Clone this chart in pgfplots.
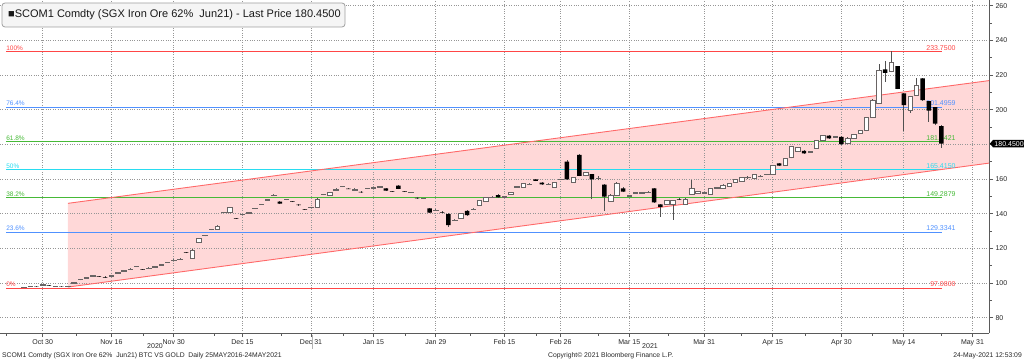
\documentclass[border=0pt]{standalone}
\usepackage{pgfplots}
\pgfplotsset{compat=1.18}
\usepackage{pgfplotstable}
\usepackage{fontspec}
\setmainfont{Liberation Sans}
\usetikzlibrary{shapes.symbols}

\definecolor{fibred}{RGB}{255,70,70}
\definecolor{fibblue}{RGB}{80,145,255}
\definecolor{fibgreen}{RGB}{70,185,55}
\definecolor{fibcyan}{RGB}{40,220,240}
\definecolor{chanline}{RGB}{255,105,105}
\definecolor{chanfill}{RGB}{255,216,216}
\definecolor{upline}{RGB}{105,100,100}
\definecolor{wickc}{RGB}{80,80,80}
\definecolor{gridc}{RGB}{150,150,150}
\definecolor{axc}{RGB}{90,90,90}

% i = trading day index (0 = 27 Oct 2020), open high low close
\pgfplotstableread{
i o h l c
0 97.5 98.0 97.3 97.8
1 98.1 98.6 97.9 98.4
2 98.0 98.3 97.6 97.8
3 98.8 99.4 98.6 99.1
4 98.8 99.1 98.3 98.5
5 98.2 98.6 97.9 98.4
6 98.1 98.3 97.7 97.9
7 97.9 98.4 97.7 98.2
8 99.8 100.6 99.5 100.3
9 101.9 102.5 101.6 102.2
10 102.8 103.4 102.5 103.1
11 103.9 104.5 103.7 104.2
12 104.0 104.3 103.5 103.7
13 103.5 103.8 103.0 103.2
14 103.8 104.9 103.6 104.6
15 105.8 106.4 105.6 106.1
16 106.8 107.4 106.6 107.1
17 107.9 108.5 107.7 108.2
18 109.4 110.0 109.2 109.7
19 108.1 108.4 107.6 107.8
20 108.5 109.1 108.3 108.8
21 109.2 109.8 109.0 109.5
22 110.4 111.0 110.2 110.7
23 111.8 112.4 111.6 112.1
24 113.1 113.7 112.9 113.4
25 113.7 114.3 113.5 114.0
26 117.7 118.0 117.2 117.4
27 114.3 119.4 114.0 119.0
28 123.3 125.9 123.0 125.6
29 127.3 127.9 127.0 127.6
30 130.8 131.4 130.6 131.1
31 131.0 133.4 130.7 133.0
32 140.6 141.2 140.4 140.9
33 140.8 144.0 140.5 143.7
34 137.5 137.8 137.0 137.2
35 139.4 140.0 139.2 139.7
36 140.4 141.0 140.2 140.7
37 142.9 143.5 142.7 143.2
38 145.3 145.9 145.1 145.6
39 147.8 148.4 147.6 148.1
40 150.6 151.2 150.4 150.9
41 147.0 147.3 145.5 145.8
42 148.1 148.7 147.9 148.4
43 147.1 147.4 146.6 146.8
44 145.2 145.5 144.7 144.9
45 142.7 143.0 142.2 142.4
46 143.5 144.1 143.3 143.8
47 143.8 148.8 143.5 148.4
48 151.0 151.6 150.8 151.3
49 150.8 152.7 150.6 152.4
50 153.8 154.6 153.6 154.3
51 155.6 156.2 155.4 155.9
52 154.5 154.8 154.0 154.2
53 153.3 154.6 153.1 154.3
54 152.6 152.9 152.1 152.3
55 154.4 155.0 154.2 154.7
56 154.8 155.4 154.6 155.1
57 155.4 156.0 155.2 155.7
58 154.6 154.9 153.0 153.3
59 152.9 153.2 152.4 152.6
60 156.2 156.5 154.0 154.3
61 152.9 153.2 152.4 152.6
62 152.2 152.8 152.0 152.5
63 149.1 149.4 148.6 148.8
64 148.7 149.3 148.5 149.0
65 143.1 143.5 140.3 140.6
66 141.9 142.5 141.7 142.2
67 141.0 141.3 140.5 140.7
68 139.8 140.4 132.5 133.5
69 136.2 136.8 136.0 136.5
70 137.3 140.5 137.0 140.2
71 141.6 141.9 138.9 139.2
72 142.5 143.1 142.3 142.8
73 145.0 147.8 144.7 147.5
74 147.3 149.8 147.0 149.5
75 149.5 150.0 149.2 149.7
76 150.8 151.2 149.2 149.5
77 149.6 150.2 149.4 149.9
78 151.4 152.7 151.2 152.4
79 155.4 156.0 155.2 155.7
80 155.2 157.8 155.0 157.5
81 156.9 157.5 156.7 157.2
82 159.8 160.1 158.7 159.0
83 157.9 158.2 156.7 157.0
84 156.9 157.5 156.7 157.2
85 155.2 158.4 154.9 158.1
86 159.6 160.2 159.4 159.9
87 170.0 171.0 159.5 159.8
88 158.1 161.1 157.8 160.8
89 173.9 174.6 161.6 161.9
90 161.9 164.2 161.6 163.9
91 162.9 163.2 148.3 159.8
92 160.3 161.5 159.3 160.5
93 156.8 157.4 141.7 149.8
94 147.3 151.1 146.8 150.8
95 150.8 158.4 150.5 157.3
96 154.6 155.3 152.4 152.7
97 150.3 150.9 150.1 150.6
98 151.9 152.5 151.7 152.2
99 151.9 152.8 151.5 152.2
100 152.3 152.9 152.1 152.6
101 154.6 155.0 146.3 146.6
102 145.4 145.7 138.3 144.0
103 145.4 148.2 145.1 147.9
104 145.4 148.2 136.4 147.9
105 148.5 148.8 148.0 148.2
106 145.4 148.8 145.1 148.5
107 151.4 159.4 151.1 154.6
108 151.8 153.4 151.5 153.1
109 151.9 152.5 151.7 152.2
110 151.4 154.9 151.1 154.6
111 154.8 155.4 154.6 155.1
112 154.6 156.9 154.3 156.6
113 155.6 157.8 155.3 157.5
114 158.1 160.1 157.8 159.8
115 158.9 161.1 158.6 160.8
116 160.8 161.8 160.2 161.1
117 160.4 163.0 160.1 162.7
118 161.5 162.4 161.0 161.8
119 162.5 163.1 162.3 162.8
120 162.7 168.0 162.4 167.7
121 169.1 169.4 167.4 167.7
122 168.1 172.3 167.8 172.0
123 172.3 179.0 172.0 178.7
124 176.3 178.4 176.0 178.1
125 176.3 176.6 174.5 174.8
126 175.6 176.4 175.2 175.9
127 177.7 182.8 177.4 182.5
128 182.5 185.7 182.2 185.4
129 185.0 185.3 183.2 183.5
130 184.2 184.8 184.0 184.5
131 184.4 184.7 179.9 180.2
132 180.8 184.0 180.5 183.6
133 183.5 186.1 183.2 185.8
134 186.4 188.5 186.1 187.9
135 187.9 195.9 187.6 195.6
136 195.6 205.9 195.3 205.6
137 203.7 226.4 203.4 222.9
138 223.3 228.3 216.2 221.3
139 221.9 233.75 221.6 227.3
140 225.2 225.5 211.8 212.1
141 209.5 209.8 188.0 202.7
142 199.8 207.8 198.2 207.5
143 208.5 218.1 208.2 214.3
144 218.1 218.4 205.3 205.6
145 205.0 205.3 193.0 199.5
146 201.5 201.8 191.0 192.0
147 190.5 191.0 178.0 180.45
}\candles

\pgfplotsset{chartbase/.style={
  width=989pt, height=333pt, scale only axis,
  at={(0pt,28pt)}, anchor=south west,
  xmin=-3.846, xmax=154.65, ymin=71.2, ymax=263.3,
}}

\newcommand{\fibfont}{\fontsize{6.5}{7.5}\selectfont}
\newcommand{\valfont}{\fontsize{7}{8}\selectfont}

\begin{document}
\begin{tikzpicture}
\useasboundingbox (0pt,0pt) rectangle (1024pt,361pt);

% frame, grid, ticks, regression channel (grid drawn over the channel fill)
\begin{axis}[chartbase,
  clip=false, axis on top,
  axis x line*=bottom, axis y line*=right,
  axis line style={-, draw=axc, line width=0.9pt},
  xtick={3,14,24,35,46,56,66,77,86,97,109,120,131,141,152},
  xticklabels={Oct 30,Nov 16,Nov 30,Dec 15,Dec 31,Jan 15,Jan 29,Feb 15,Feb 26,Mar 15,Mar 31,Apr 15,Apr 30,May 14,May 31},
  minor xtick={-2.77,8.45,19.1,30.5,41.2,51.2,61.2,71.5,82.2,92.1,103.2,114.9,125.2,136.0,147.1},
  ytick={80,100,...,260},
  yticklabels={80,100,120,140,160,,200,220,240,260},
  minor ytick={90,110,...,250},
  yticklabel pos=right,
  xmajorgrids, ymajorgrids,
  major grid style={gridc, dotted, line width=0.7pt},
  tick align=outside,
  major tick length=4pt, minor tick length=2.5pt,
  tick style={axc, line width=0.9pt},
  ticklabel style={font=\fontsize{7}{8}\selectfont, text=black!85},
  xticklabel style={yshift=1pt},
  yticklabel style={xshift=-1pt},
]
\addplot[draw=none, fill=chanfill] coordinates {(7.05,97.7) (154.65,169.2) (154.65,216.8) (7.05,146.0) (7.05,97.7)};
\end{axis}

% Fibonacci levels (thin bands), channel borders, wicks
\begin{axis}[chartbase, hide axis, clip=false]
\addplot[draw=none, fill=fibred] coordinates {(-2.88,96.78) (147.1,96.78) (147.1,97.38) (-2.88,97.38)};
\addplot[draw=none, fill=fibblue] coordinates {(-2.88,129.03) (147.1,129.03) (147.1,129.63) (-2.88,129.63)};
\addplot[draw=none, fill=fibgreen] coordinates {(-2.88,148.99) (147.1,148.99) (147.1,149.59) (-2.88,149.59)};
\addplot[draw=none, fill=fibcyan] coordinates {(-2.88,165.12) (147.1,165.12) (147.1,165.72) (-2.88,165.72)};
\addplot[draw=none, fill=fibgreen] coordinates {(-2.88,181.24) (147.1,181.24) (147.1,181.84) (-2.88,181.84)};
\addplot[draw=none, fill=fibblue] coordinates {(-2.88,201.20) (147.1,201.20) (147.1,201.80) (-2.88,201.80)};
\addplot[draw=none, fill=fibred] coordinates {(-2.88,233.45) (147.1,233.45) (147.1,234.05) (-2.88,234.05)};
\addplot[draw=chanline, line width=0.9pt] coordinates {(7.05,146.0) (154.65,216.8)};
\addplot[draw=chanline, line width=0.9pt] coordinates {(7.05,97.7) (154.65,169.2)};
\addplot[draw=none, mark=none,
  error bars/.cd, y dir=plus, y explicit, error mark=none,
  error bar style={draw=wickc, line width=0.7pt}]
  table[x=i, y=l, y error expr=\thisrow{h}-\thisrow{l}] {\candles};

\node[anchor=south west, inner sep=0.5pt, text=fibred, font=\fibfont] at (axis cs:-2.95,234.0) {100\%};
\node[anchor=south west, inner sep=0.5pt, text=fibblue, font=\fibfont] at (axis cs:-2.95,201.75) {76.4\%};
\node[anchor=south west, inner sep=0.5pt, text=fibgreen, font=\fibfont] at (axis cs:-2.95,181.8) {61.8\%};
\node[anchor=south west, inner sep=0.5pt, text=fibcyan, font=\fibfont] at (axis cs:-2.95,165.7) {50\%};
\node[anchor=south west, inner sep=0.5pt, text=fibgreen, font=\fibfont] at (axis cs:-2.95,149.55) {38.2\%};
\node[anchor=south west, inner sep=0.5pt, text=fibblue, font=\fibfont] at (axis cs:-2.95,129.6) {23.6\%};
\node[anchor=south west, inner sep=0.5pt, text=fibred, font=\fibfont] at (axis cs:-2.95,97.35) {0\%};
\node[anchor=south east, inner sep=0.5pt, text=fibred, font=\valfont] at (axis cs:149.4,234.0) {233.7500};
\node[anchor=south east, inner sep=0.5pt, text=fibblue, font=\valfont] at (axis cs:149.4,201.75) {201.4959};
\node[anchor=south east, inner sep=0.5pt, text=fibgreen, font=\valfont] at (axis cs:149.4,181.8) {181.5421};
\node[anchor=south east, inner sep=0.5pt, text=fibcyan, font=\valfont] at (axis cs:149.4,165.7) {165.4150};
\node[anchor=south east, inner sep=0.5pt, text=fibgreen, font=\valfont] at (axis cs:149.4,149.55) {149.2879};
\node[anchor=south east, inner sep=0.5pt, text=fibblue, font=\valfont] at (axis cs:149.4,129.6) {129.3341};
\node[anchor=south east, inner sep=0.5pt, text=fibred, font=\valfont] at (axis cs:149.4,97.35) {97.0800};
\node[signal, signal to=west, signal pointer angle=100, fill=black, text=white, anchor=west,
  inner xsep=1.5pt, inner ysep=1.2pt, font=\valfont] at (axis cs:154.75,180.45) {180.4500};
\end{axis}

% candle bodies
\begin{axis}[chartbase, hide axis, ybar stacked, bar width=0.72]
\addplot[draw=none, fill=none] table[x=i, y expr={min(\thisrow{o},\thisrow{c})}] {\candles};
\addplot[draw=none, fill=black] table[x=i, y expr={max(\thisrow{o}-\thisrow{c},0)}] {\candles};
\addplot[draw=upline, fill=white, line width=0.6pt] table[x=i, y expr={max(\thisrow{c}-\thisrow{o},0)}] {\candles};
\end{axis}

% title box
\draw[draw=gray!75, fill=gray!8, rounded corners=3pt, line width=0.8pt] (2pt,334pt) rectangle (345pt,358pt);
\node[anchor=west, inner sep=0pt, font=\fontsize{11}{13}\selectfont, text=black!90] at (8pt,346pt)
  {■SCOM1 Comdty (SGX Iron Ore 62\%\ \ Jun21) - Last Price 180.4500};

% year separator and labels
\draw[gray!60, line width=0.6pt] (312pt,26pt) -- (312pt,12pt);
\node[font=\valfont, text=black!85] at (155pt,15pt) {2020};
\node[font=\valfont, text=black!85] at (650pt,15pt) {2021};
% footer
\node[anchor=west, inner sep=0pt, font=\fontsize{6.8}{8}\selectfont, text=black!85] at (2pt,5pt)
  {SCOM1 Comdty (SGX Iron Ore 62\%\ \ Jun21) BTC VS GOLD\ \ Daily 25MAY2016-24MAY2021};
\node[anchor=west, inner sep=0pt, font=\fontsize{6.8}{8}\selectfont, text=black!85] at (548pt,5pt)
  {Copyright© 2021 Bloomberg Finance L.P.};
\node[anchor=east, inner sep=0pt, font=\fontsize{6.8}{8}\selectfont, text=black!85] at (1022pt,5pt)
  {24-May-2021 12:53:09};
\end{tikzpicture}
\end{document}
